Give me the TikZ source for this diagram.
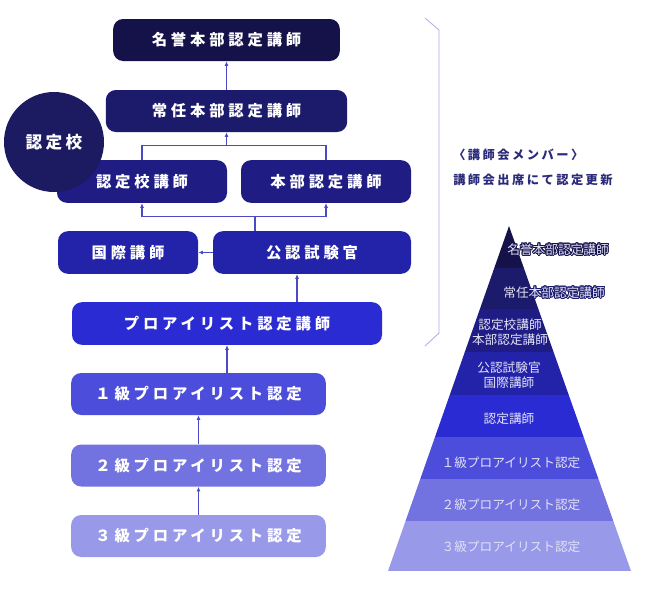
\documentclass[tikz,border=0pt]{standalone}
\usepackage{fontspec}
\setmainfont{Noto Sans CJK JP}
\newfontfamily\boxfont[LetterSpace=25]{Noto Sans CJK JP}
\newfontfamily\notefont[LetterSpace=20]{Noto Sans CJK JP}
\usepackage[copies]{contour}
\contourlength{0.7pt}
\usetikzlibrary{arrows.meta, positioning, calc}
\definecolor{rankmeiyo}{HTML}{15124A}
\definecolor{rankjounin}{HTML}{1B1A6B}
\definecolor{rankschool}{HTML}{1F1D84}
\definecolor{rankexam}{HTML}{2323A9}
\definecolor{rankpro}{HTML}{2B2BD3}
\definecolor{rankone}{HTML}{4D4DDB}
\definecolor{ranktwo}{HTML}{7272E0}
\definecolor{rankthree}{HTML}{9999E9}
\definecolor{schoolnavy}{HTML}{1C1A60}
\definecolor{linkblue}{HTML}{4A4AC4}
\definecolor{bracketblue}{HTML}{A9A9EE}
\definecolor{notenavy}{HTML}{2A2A7A}
\definecolor{pyrtext}{HTML}{E2E2F8}
\tikzset{
  rank/.style={rounded corners=7.5pt, inner sep=0pt, text=white,
               minimum height=31.5pt, align=center,
               font=\boxfont\bfseries\fontsize{11.5}{13}\selectfont},
  link/.style={draw=linkblue, line width=0.8pt},
  arrow/.style={link, -{Latex[length=3.5pt, width=3pt]}},
  plabel/.style={font=\fontsize{9.5}{11.25}\selectfont, text=pyrtext,
                 align=center, inner sep=0pt},
  note/.style={font=\notefont\bfseries\fontsize{9.2}{11}\selectfont, text=notenavy,
               anchor=west, inner sep=0pt},
}

\begin{document}
\begin{tikzpicture}[x=0.75pt, y=-0.75pt]
\useasboundingbox (0,0) rectangle (652,600);

% --- ranks (left) ---
\node[rank, fill=rankmeiyo, minimum width=170pt] (meiyo) at (226.5,40) {名誉本部認定講師};
\node[rank, fill=rankjounin, minimum width=181pt] (jounin) at (226.5,111) {常任本部認定講師};
\node[rank, fill=rankschool, minimum width=127.5pt, minimum height=32pt] (school) at (142,181.5) {認定校講師};
\node[rank, fill=rankschool, minimum width=127.5pt, minimum height=32pt] (honbu) at (326,181.5) {本部認定講師};
\node[rank, fill=rankexam, minimum width=105pt, minimum height=32pt] (kokusai) at (128,252.5) {国際講師};
\node[rank, fill=rankexam, minimum width=148.5pt, minimum height=32pt] (shiken) at (312,252.5) {公認試験官};
\node[rank, fill=rankpro, minimum width=232.5pt, minimum height=32pt] (pro) at (227,323.5) {プロアイリスト認定講師};
\node[rank, fill=rankone, minimum width=191pt] (kyu1) at (198.5,394) {１級プロアイリスト認定};
\node[rank, fill=ranktwo, minimum width=191pt] (kyu2) at (198.5,465.5) {２級プロアイリスト認定};
\node[rank, fill=rankthree, minimum width=191pt] (kyu3) at (198.5,536) {３級プロアイリスト認定};

% --- school circle ---
\node[circle, fill=schoolnavy, minimum size=75pt, inner sep=0pt, text=white,
      font=\notefont\bfseries\fontsize{12.5}{14}\selectfont] (ninteikou) at (54,142) {認定校};

% --- connectors ---
\draw[arrow] (jounin) -- (meiyo);
\coordinate (upjoin) at ($(school.north)!0.5!(honbu.north)+(0,-14)$);
\draw[link] (school.north) |- (upjoin) -| (honbu.north);
\draw[arrow] (upjoin) -- (upjoin -| jounin.south) -- (jounin.south);
\coordinate (lowjoin) at ($(shiken.north)+(-57,-14)$);
\draw[link] (shiken.north -| lowjoin) -- (lowjoin);
\draw[arrow] (lowjoin) -| (school.south);
\draw[arrow] (lowjoin) -| (honbu.south);
\draw[arrow] (shiken.west) -- (kokusai.east);
\draw[arrow] ($(pro.north)+(70,0)$) coordinate (proup) -- (proup |- shiken.south);
\draw[arrow] (kyu1.north -| pro.south) -- (pro.south);
\draw[arrow] (kyu2) -- (kyu1);
\draw[arrow] (kyu3) -- (kyu2);

% --- bracket + note ---
\draw[bracketblue, line width=0.6pt] (425,18) -- (439,30) -- (439,333) -- (425,346);
\node[note] (member) at (453,155) {〈講師会メンバー〉};
\node[note] (renew) at (453,180) {講師会出席にて認定更新};

% --- pyramid ---
\begin{scope}
  \clip (509,226) -- (631,571) -- (388,571) -- cycle;
  \foreach \ya/\yb/\col in {226/268/rankmeiyo, 268/309/rankjounin, 309/352/rankschool,
      352/395/rankexam, 395/437/rankpro, 437/479/rankone, 479/521/ranktwo, 521/571/rankthree}
    \fill[\col] (380,\ya) rectangle (640,\yb);
\end{scope}
\node[plabel] (p1) at (558,250) {\contour{rankmeiyo}{名誉本部認定講師}};
\node[plabel] (p2) at (554,293) {\contour{rankjounin}{常任本部認定講師}};
\node[plabel] (p3) at (510,332.5) {認定校講師\\本部認定講師};
\node[plabel] (p4) at (509,375.5) {公認試験官\\国際講師};
\node[plabel] (p5) at (509,419) {認定講師};
\node[plabel] (p6) at (511,463) {１級プロアイリスト認定};
\node[plabel] (p7) at (511,505) {２級プロアイリスト認定};
\node[plabel] (p8) at (511,547) {３級プロアイリスト認定};

\end{tikzpicture}
\end{document}
